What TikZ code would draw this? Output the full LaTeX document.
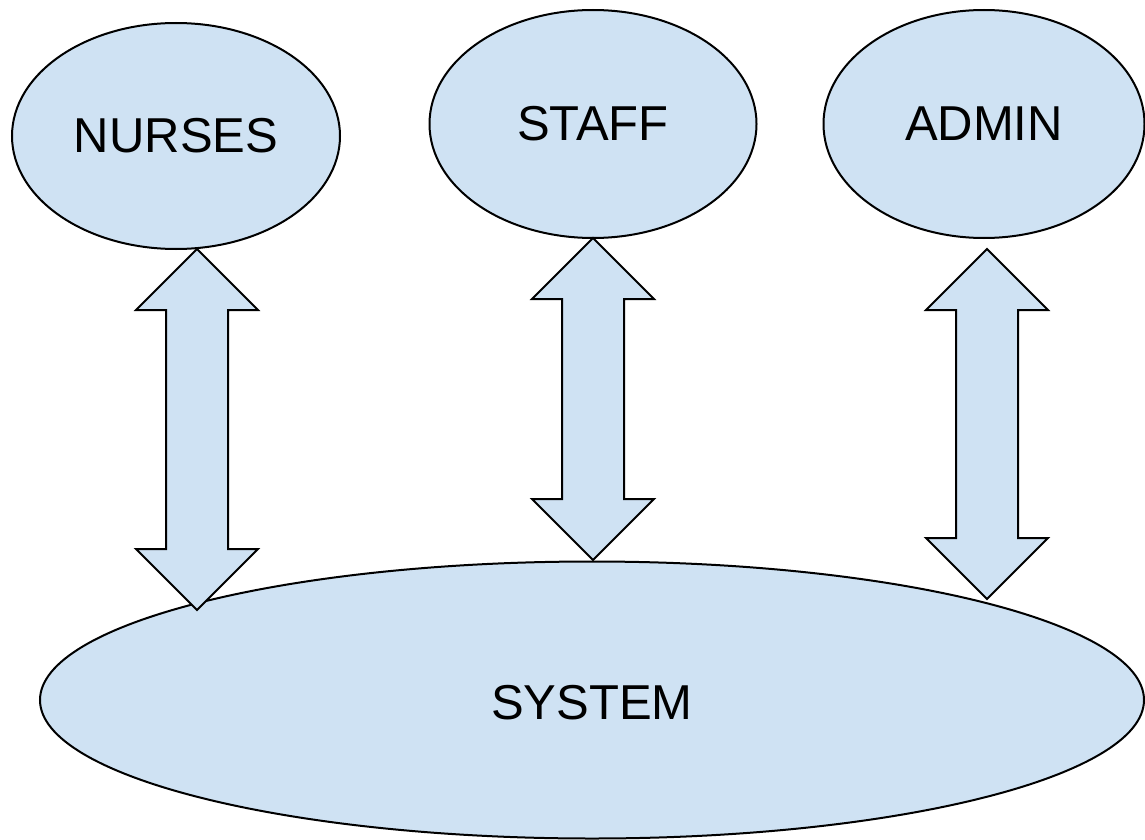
\documentclass[tikz,border=0pt]{standalone}
\usepackage{fontspec}
\setmainfont{Liberation Sans}
\usetikzlibrary{shapes.geometric}
\definecolor{boxfill}{HTML}{CFE2F3}
\tikzset{
  actor/.style={ellipse, draw=black, fill=boxfill, line width=2pt, inner sep=0pt, font=\fontsize{49}{58}\selectfont},
  flow/.style={draw=black, fill=boxfill, line width=2pt, line join=miter}
}
% two-headed block arrow: centre x, top tip y, bottom tip y
\newcommand\blockarrow[3]{%
  \draw[flow] (#1,#2) -- (#1+61,#2+61) -- (#1+31,#2+61) -- (#1+31,#3-61)
    -- (#1+61,#3-61) -- (#1,#3) -- (#1-61,#3-61) -- (#1-31,#3-61)
    -- (#1-31,#2+61) -- (#1-61,#2+61) -- cycle;}
\begin{document}
\begin{tikzpicture}[x=1pt,y=-1pt]
\useasboundingbox (0,0) rectangle (1145,840);
\node[actor, minimum width=328pt, minimum height=226pt] (nurses) at (176,136) {NURSES};
\node[actor, minimum width=327pt, minimum height=228pt] (staff) at (593,124) {STAFF};
\node[actor, minimum width=321pt, minimum height=228pt] (admin) at (984,124) {ADMIN};
\node[actor, minimum width=1104pt, minimum height=277pt] (system) at (592,700) {};
\node[font=\fontsize{49}{58}\selectfont] (systemlabel) at (592,703) {SYSTEM};
\blockarrow{197}{249}{610}
\blockarrow{593}{238}{560}
\blockarrow{987}{249}{599}
\end{tikzpicture}
\end{document}
